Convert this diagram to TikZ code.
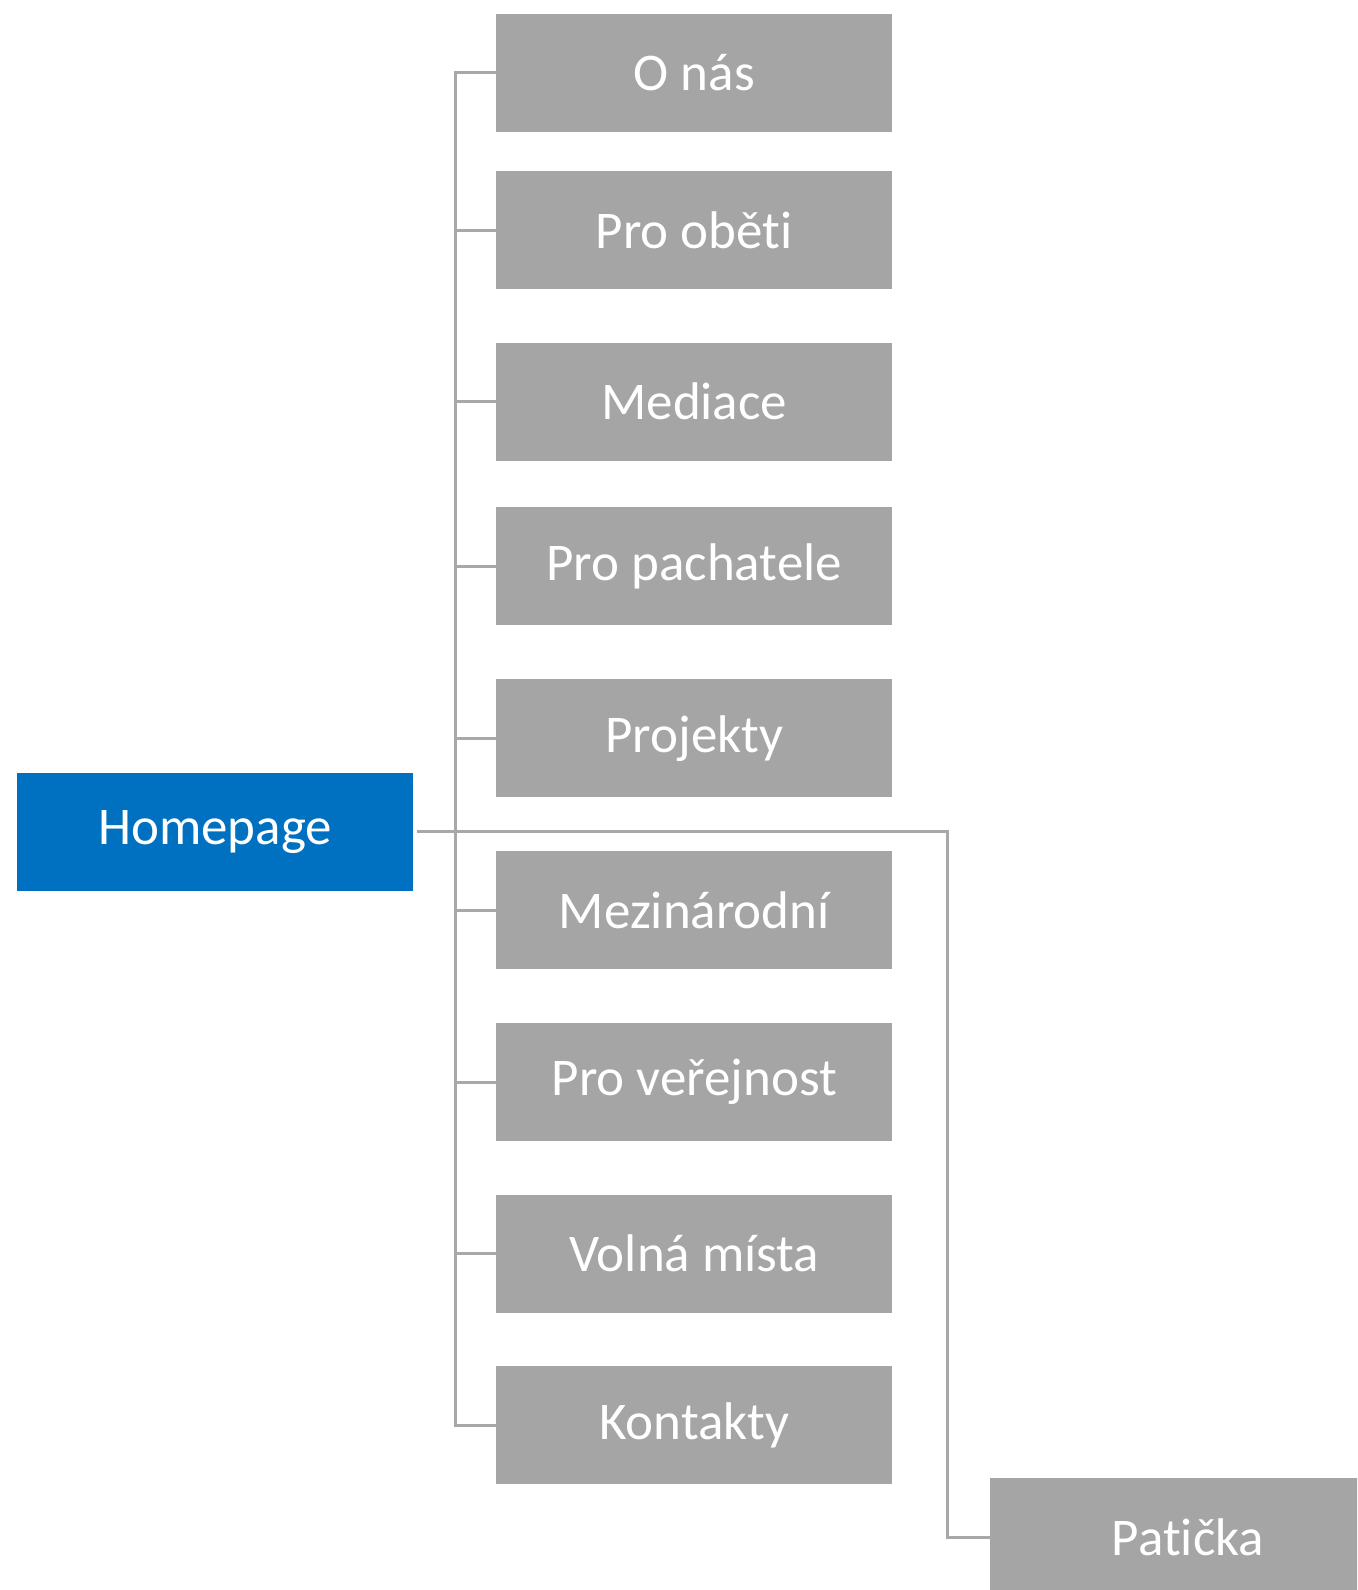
\documentclass[tikz,border=0pt]{standalone}
\usepackage{fontspec}
\setmainfont{Carlito}[Ligatures = NoCommon]
\definecolor{boxgray}{RGB}{165,165,165}
\definecolor{homeblue}{RGB}{0,112,192}
\definecolor{linegray}{RGB}{168,168,168}
\tikzset{
  pagebox/.style = {fill = boxgray, text = white, minimum width = 198pt, minimum height = 59pt, inner sep = 0pt, font = \fontsize{26.5}{32}\selectfont},
  homebox/.style = {pagebox, fill = homeblue},
  link/.style = {draw = linegray, line width = 1.5pt}
}
\begin{document}
\begin{tikzpicture}[x = 0.5pt, y = -0.5pt]
\useasboundingbox (0,0) rectangle (1357,1590);
\clip (0,0) rectangle (1357,1590);
\pgfmathsetmacro\colx{694.25}
\node[homebox] (home) at (215,831.6) {Homepage};
\foreach \name/\y/\txt in {onas/72.5/O nás, obeti/230.2/Pro oběti, mediace/401.6/Mediace, pachatele/566.4/Pro pachatele, projekty/738.4/Projekty, mezinarodni/910.3/Mezinárodní, verejnost/1082.2/Pro veřejnost, mista/1253.6/Volná místa, kontakty/1425.4/Kontakty}
  \node[pagebox] (\name) at (\colx,\y) {\txt};
\node[pagebox] (paticka) at (1188,1537) {Patička};
\coordinate (trunk) at (455,831.6);
\coordinate (bend) at (947,831.6);
\draw[link] (onas.west) -| (trunk) |- (kontakty.west);
\foreach \name in {obeti,mediace,pachatele,projekty,mezinarodni,verejnost,mista}
  \draw[link] (\name.west) -- (\name.west -| trunk);
\draw[link, shorten <= 2pt] (home.east) -- (bend) |- (paticka.west);
\end{tikzpicture}
\end{document}
